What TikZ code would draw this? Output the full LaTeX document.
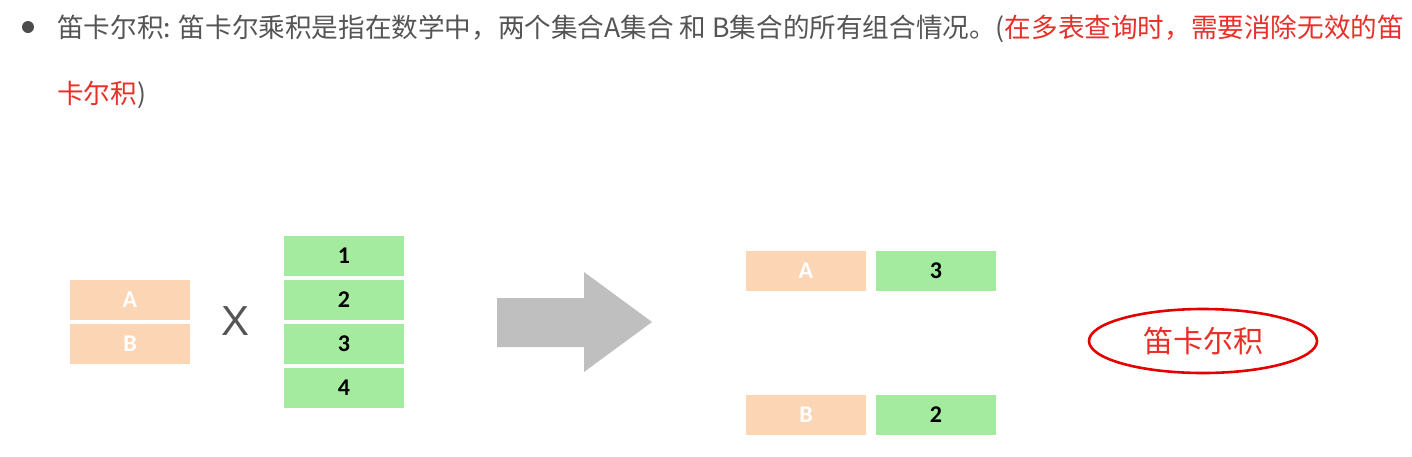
\documentclass[tikz,border=0pt]{standalone}
\usepackage{fontspec}
\setmainfont{Noto Sans CJK SC}
\newfontfamily\cjk{Noto Sans CJK SC}
\newfontfamily\lblfont{Carlito}
\newfontfamily\xfont{Liberation Sans}
\definecolor{peach}{HTML}{FCD5B4}
\definecolor{mint}{HTML}{A4EBA0}
\definecolor{txtgray}{HTML}{555555}
\definecolor{hlred}{HTML}{E8302A}
\definecolor{arrowgray}{HTML}{BFBFBF}
\begin{document}
\begin{tikzpicture}[x=1pt,y=-1pt,
  cellbox/.style={minimum width=120pt,minimum height=40pt,inner sep=0pt,font=\lblfont\bfseries\fontsize{24}{24}\selectfont},
  peachbox/.style={cellbox,fill=peach,text=white},
  greenbox/.style={cellbox,fill=mint,text=black},
  title/.style={anchor=base west,inner sep=0pt,text=txtgray,font=\cjk\fontsize{26.6}{26.6}\selectfont}]
\useasboundingbox (0,0) rectangle (1412,456);
\fill[white] (0,0) rectangle (1412,456);
% title
\fill[txtgray!90!black] (28,27) circle (6);
\node[title] (t1) at (57,37) {笛卡尔积: 笛卡尔乘积是指在数学中，两个集合A集合 和 B集合的所有组合情况。(\textcolor{hlred}{在多表查询时，需要消除无效的笛}};
\node[title] (t2) at (57,103) {\textcolor{hlred}{卡尔积})};
% left tables
\node[peachbox] (la) at (130,300) {A};
\node[peachbox] (lb) at (130,344) {B};
\node[text=txtgray,font=\xfont\fontsize{42}{42}\selectfont,inner sep=0pt] (x) at (236,321) {X};
\node[greenbox] (g1) at (344,256) {1};
\node[greenbox] (g2) at (344,300) {2};
\node[greenbox] (g3) at (344,344) {3};
\node[greenbox] (g4) at (344,388) {4};
% big arrow
\fill[arrowgray] (497,298) -- (584,298) -- (584,272) -- (652,322) -- (584,372) -- (584,347) -- (497,347) -- cycle;
% result
\node[peachbox] (ra) at (806,271) {A};
\node[greenbox] (r3) at (936,271) {3};
\node[peachbox] (rb) at (806,415) {B};
\node[greenbox] (r2) at (936,415) {2};
% ellipse
\draw[red!90!black,line width=2.6pt] (1203,341) ellipse (114 and 32);
\node[text=hlred,font=\cjk\fontsize{30}{30}\selectfont,inner sep=0pt] (lbl) at (1203,341) {笛卡尔积};
\end{tikzpicture}
\end{document}
